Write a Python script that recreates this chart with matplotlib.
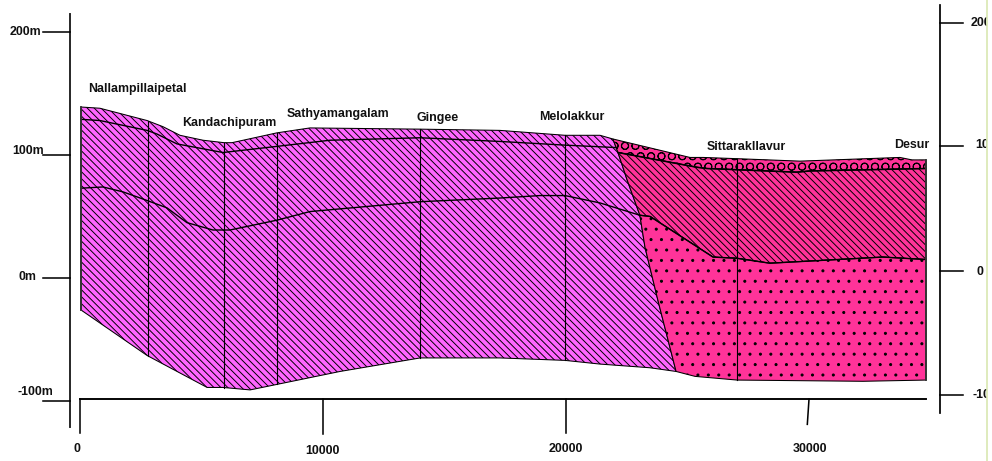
import numpy as np
import matplotlib
matplotlib.use("Agg")
import matplotlib.pyplot as plt
from matplotlib.patches import Polygon

plt.rcParams['font.family'] = ['Liberation Sans', 'DejaVu Sans']
plt.rcParams['hatch.linewidth'] = 0.55

# profile boundaries, distance in m and elevation in m
surface_left_x = [40, 820, 2760, 3415, 4115, 5060, 5925, 6255, 8105, 9465, 14000, 17280, 19960, 21400, 21930]
surface_left_y = [139, 138, 128, 123, 116, 112, 110, 110, 118, 122, 121, 120, 116, 116, 113]
surface_right_x = [21930, 25100, 25640, 27040, 29630, 33740, 34240, 34810]
surface_right_y = [113, 98, 98, 97, 95, 98, 96, 96]

fault_x = [21930, 22140, 22510, 23040, 23250, 23780, 24530]
fault_y = [113, 102, 80, 51, 25, -18, -76]

contact1_left_x = [40, 820, 2760, 3170, 3990, 5885, 8105, 10290, 14000, 17280, 19960, 22100]
contact1_left_y = [129, 128, 120, 117, 109, 102, 107, 112, 114, 111, 108, 106]
contact1_right_x = [22140, 25390, 25800, 27040, 29500, 30040, 34810]
contact1_right_y = [102, 90, 89, 88, 86, 87, 89]

contact2_x = [40, 945, 1770, 2760, 3580, 4400, 5470, 6170, 8105, 9465, 14000, 17280, 18930,
              19960, 21400, 23040, 23460, 26050, 27040, 28390, 33040, 34810]
contact2_y = [73, 74, 70, 63, 57, 45, 39, 39, 47, 54, 62, 65, 67, 67, 61, 51, 50, 17, 16, 12, 17, 15]

base_x = [40, 2760, 5230, 5885, 7000, 10700, 14000, 17280, 19960, 21400, 23460, 24530, 25310,
          27040, 32220, 34810]
base_y = [-26, -63, -89, -89, -91, -76, -65, -65, -67, -70, -73, -76, -80, -83, -84, -83]

section_x = [2800, 5925, 8105, 14000, 19960, 27040]

sites = ['Nallampillaipetal', 'Kandachipuram', 'Sathyamangalam', 'Gingee', 'Melolakkur',
         'Sittarakllavur', 'Desur']
left_labels = ['200m', '100m', '0m', '-100m']
left_ticks = [200, 100, 0, -100]
right_labels = ['200', '100', '0', '-100']
right_ticks = [207, 107, 6, -95]
bottom_labels = ['0', '10000', '20000', '30000']
bottom_ticks = [0, 10000, 20000, 30000]

MAGENTA = '#ff66ff'
PINK = '#ff3399'

W, H = 992, 461
fig = plt.figure(figsize=(W / 125, H / 125), dpi=125)
ax = fig.add_axes([0, 0, 1, 1])
ax.set_xlim(-3292, 37530)
ax.set_ylim(-148.8, 226)
ax.axis('off')


def fill(xs, ys, color, hatch):
    ax.add_patch(Polygon(np.column_stack([xs, ys]), closed=True, facecolor=color,
                         edgecolor='black', hatch=hatch, lw=0.6, zorder=1))


def east_of(xs, ys, start):
    xs, ys = np.array(xs), np.array(ys)
    keep = xs >= start
    return list(xs[keep]), list(ys[keep])


# left block, everything west of the fault
fill(surface_left_x + fault_x + base_x[:12][::-1],
     surface_left_y + fault_y + base_y[:12][::-1], MAGENTA, '\\' * 6)

# east of the fault: gravel cap, middle unit, dotted unit
fill(surface_right_x + contact1_right_x[::-1],
     surface_right_y + contact1_right_y[::-1], PINK, 'OO')

c2x, c2y = east_of(contact2_x, contact2_y, 23040)
fill(contact1_right_x + c2x[::-1] + fault_x[2:3],
     contact1_right_y + c2y[::-1] + fault_y[2:3], PINK, '\\' * 6)

bx, by = east_of(base_x, base_y, 24530)
fill(c2x + bx[::-1] + fault_x[3:][::-1],
     c2y + by[::-1] + fault_y[3:][::-1], PINK, '..')

# contacts and section lines
ax.plot(contact1_left_x, contact1_left_y, color='black', lw=0.8, zorder=2)
ax.plot(contact1_right_x, contact1_right_y, color='black', lw=0.9, zorder=2)
ax.plot(contact2_x, contact2_y, color='black', lw=0.8, zorder=2)
surface_x = surface_left_x + surface_right_x[1:]
surface_y = surface_left_y + surface_right_y[1:]
for sx in section_x:
    ax.plot([sx, sx], [np.interp(sx, surface_x, surface_y), np.interp(sx, base_x, base_y)],
            color='black', lw=0.65, zorder=2)
for ex in [40, 34810]:
    ax.plot([ex, ex], [np.interp(ex, surface_x, surface_y), np.interp(ex, base_x, base_y)],
            color='#333333', lw=1.1, zorder=2)

# hand drawn axes
ax.plot([-411, -411], [215, -121], color='#222222', lw=1.1)
for t in left_ticks:
    ax.plot([-1520, -411], [t, t], color='black', lw=0.9)
ax.plot([0, 34810], [-98.4, -98.4], color='black', lw=1.1)
for t, end, lean in zip(bottom_ticks, [-126, -127, -126, -119], [0, 0, 0, -70]):
    ax.plot([t, t + lean], [-98.4, end], color='black', lw=0.9)
ax.plot([35390, 35390], [222, -110], color='black', lw=1.0)
for t in right_ticks:
    ax.plot([35390, 36350], [t, t], color='black', lw=0.9)


def label(s, x, y, ha='center'):
    ax.text(x / W, 1 - y / H, s, transform=fig.transFigure, ha=ha, va='center',
            fontsize=7.1, fontweight='bold', color='#111111', zorder=3)


site_pos = [(137, 89), (229, 123), (338, 114), (438, 118), (572, 117), (746, 147), (912, 145)]
for s, p in zip(sites, site_pos):
    label(s, *p)
for s, p in zip(left_labels, [(25, 32), (28, 151), (27, 277), (35, 392)]):
    label(s, *p)
for s, p in zip(bottom_labels, [(77, 449), (322, 451), (566, 449), (810, 449)]):
    label(s, *p)
for s, p in zip(right_labels, [(981, 23), (986, 145), (980, 272), (985, 395)]):
    label(s, *p)

# right margin of the page cuts the labels off
ax.axvspan(37323, 37530, color='white', lw=0, zorder=5)
ax.axvline(37323, color='#dbe8b5', lw=1.0, zorder=6)

fig.savefig('out.png', dpi=125)
